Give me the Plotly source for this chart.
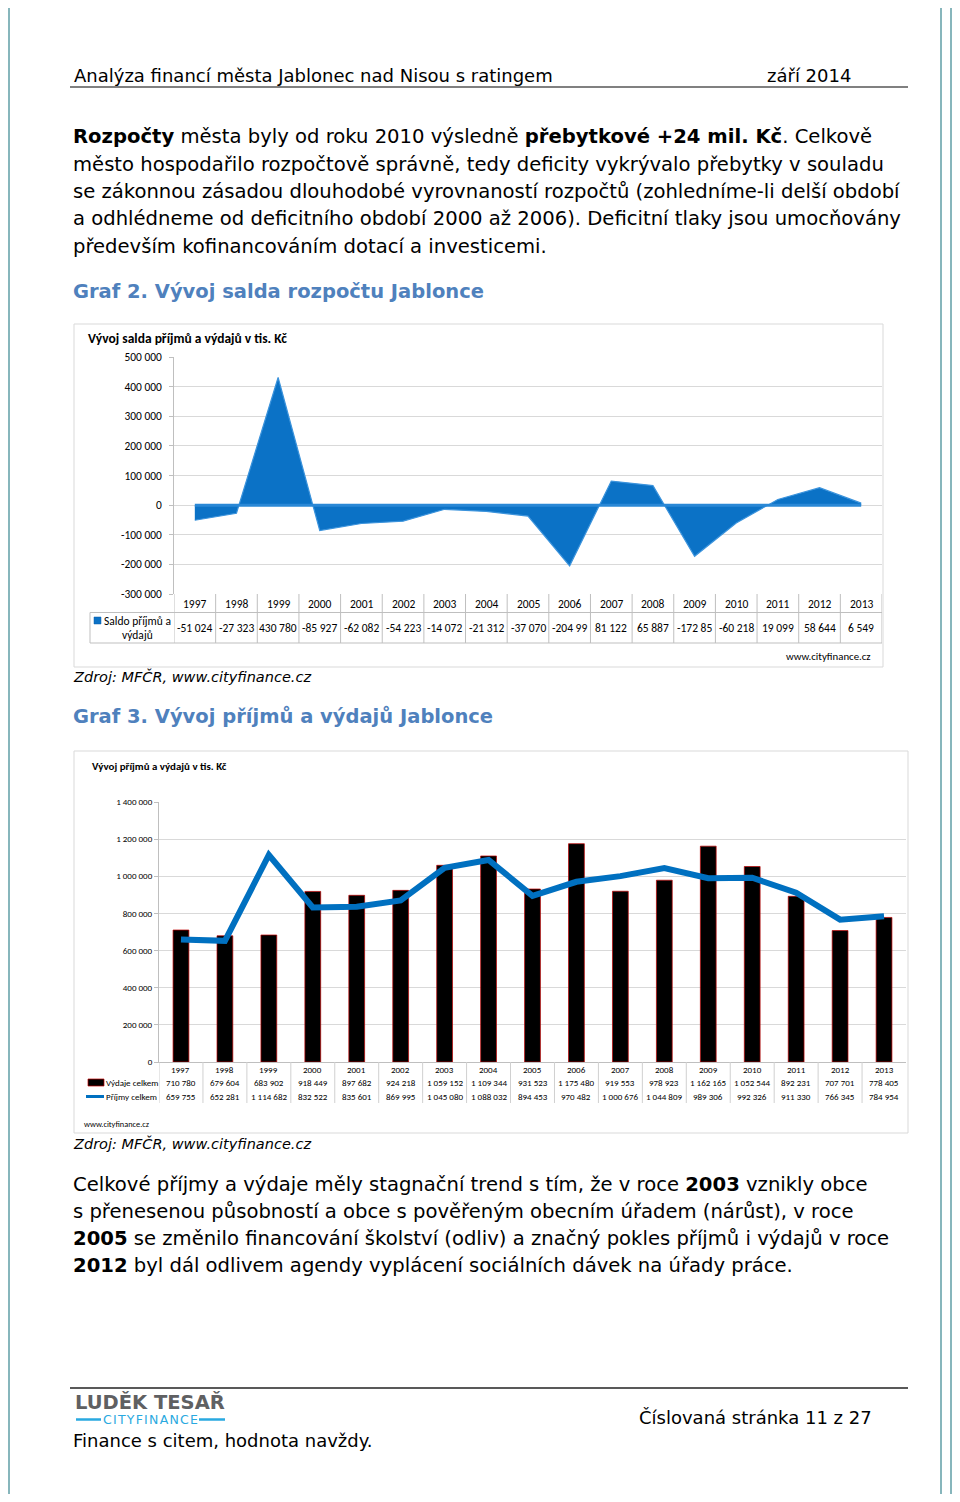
import plotly.graph_objects as go

# The page body keeps the browser's default 8 px margin, so the figure is
# sized to fill the 960x1502 window exactly inside that margin.
PAGE_W, PAGE_H, OFF = 960, 1502, 8
W, H = PAGE_W - 2 * OFF, PAGE_H - 2 * OFF

years = [str(y) for y in range(1997, 2014)]
saldo = [-51024, -27323, 430780, -85927, -62082, -54223, -14072, -21312, -37070,
         -204990, 81122, 65887, -172850, -60218, 19099, 58644, 6549]
vydaje = [710780, 679604, 683902, 918449, 897682, 924218, 1059152, 1109344, 931523,
          1175480, 919553, 978923, 1162165, 1052544, 892231, 707701, 778405]
prijmy = [659755, 652281, 1114682, 832522, 835601, 869995, 1045080, 1088032, 894453,
          970482, 1000676, 1044809, 989306, 992326, 911330, 766345, 784954]
y1_ticks = list(range(-300000, 500001, 100000))
y2_ticks = list(range(0, 1400001, 200000))

para1 = [
    "<b>Rozpočty</b> města byly od roku 2010 výsledně <b>přebytkové +24 mil. Kč</b>. Celkově",
    "město hospodařilo rozpočtově správně, tedy deficity vykrývalo přebytky v souladu",
    "se zákonnou zásadou dlouhodobé vyrovnaností rozpočtů (zohledníme-li delší období",
    "a odhlédneme od deficitního období 2000 až 2006). Deficitní tlaky jsou umocňovány",
    "především kofinancováním dotací a investicemi.",
]
para2 = [
    "Celkové příjmy a výdaje měly stagnační trend s tím, že v roce <b>2003</b> vznikly obce",
    "s přenesenou působností a obce s pověřeným obecním úřadem (nárůst), v roce",
    "<b>2005</b> se změnilo financování školství (odliv) a značný pokles příjmů i výdajů v roce",
    "<b>2012</b> byl dál odlivem agendy vyplácení sociálních dávek na úřady práce.",
]


def fmt(v):
    s = f"{abs(v):,}".replace(",", " ")
    return ("-" if v < 0 else "") + s


def px(x):
    return (x - OFF) / W


def py(y):
    return 1 - (y - OFF) / H


BODY = "DejaVu Sans, Verdana, sans-serif"
CH = "Carlito, Lato, sans-serif"
AREA = "#0b72c6"
GRID = "#d9d9d9"
TBL = "#bfbfbf"
BORDER = "#5f9ea6"

fig = go.Figure()

# Chart 1 : area
fig.add_trace(go.Scatter(x=years, y=saldo, mode="lines", fill="tozeroy",
                         fillcolor=AREA, line=dict(color="#3b93dc", width=1.2),
                         xaxis="x", yaxis="y", hoverinfo="skip"))
fig.add_trace(go.Scatter(x=years, y=[0] * len(years), mode="lines",
                         line=dict(color="#2a88d6", width=3),
                         xaxis="x", yaxis="y", hoverinfo="skip"))

# Chart 2 : bars + line
fig.add_trace(go.Bar(x=years, y=vydaje, width=0.36,
                     marker=dict(color="black", line=dict(color="#c00000", width=0.7)),
                     xaxis="x2", yaxis="y2", hoverinfo="skip"))
fig.add_trace(go.Scatter(x=years, y=prijmy, mode="lines",
                         line=dict(color="#0070c0", width=6),
                         xaxis="x2", yaxis="y2", hoverinfo="skip"))

shapes = []
ann = []


def pline(x0, y0, x1, y1, color, width=1, xref="paper"):
    if xref == "paper":
        x0, x1 = px(x0), px(x1)
    shapes.append(dict(type="line", xref=xref, yref="paper", x0=x0, x1=x1,
                       y0=py(y0), y1=py(y1), line=dict(color=color, width=width)))


def text(x, y, t, size, color="black", family=BODY, xanchor="left", xref="paper"):
    ann.append(dict(x=x if xref != "paper" else px(x), y=py(y), xref=xref, yref="paper",
                    text=t, showarrow=False, xanchor=xanchor, yanchor="middle",
                    font=dict(size=size, color=color, family=family)))


# page borders
pline(9, OFF, 9, PAGE_H - OFF, BORDER, 1.5)
pline(941, OFF, 941, PAGE_H - OFF, BORDER, 1.5)
pline(951, OFF, 951, PAGE_H - OFF, BORDER, 1.5)

# header
text(72, 75, "Analýza financí města Jablonec nad Nisou s ratingem", 18)
text(853, 75, "září 2014", 18, xanchor="right")
pline(70, 87, 908, 87, "#808080", 2)

# paragraph 1
for i, line in enumerate(para1):
    text(71, 137 + i * 27.3, line, 19.6)

text(71, 291, "<b>Graf 2. Vývoj salda rozpočtu Jablonce</b>", 19.5, color="#4f81bd")

# chart 1 frame
shapes.append(dict(type="rect", xref="paper", yref="paper", x0=px(74), x1=px(883),
                   y0=py(667), y1=py(324), line=dict(color=GRID, width=1)))
text(86, 338, "<b>Vývoj salda příjmů a výdajů v tis. Kč</b>", 13.5, family=CH)

# chart 1 data table
pline(90, 612.5, 882, 612.5, TBL)
pline(90, 643, 882, 643, TBL)
pline(90, 612.5, 90, 643, TBL)
for i in range(len(years) + 1):
    pline(i - 0.5, 594, i - 0.5, 643, TBL, xref="x")
for i, yr in enumerate(years):
    text(i, 603.5, yr, 11.5, family=CH, xanchor="center", xref="x")
    text(i, 628, fmt(saldo[i])[:7], 11.5, family=CH, xanchor="center", xref="x")
shapes.append(dict(type="rect", xref="paper", yref="paper", x0=px(94), x1=px(101),
                   y0=py(624), y1=py(617), fillcolor=AREA,
                   line=dict(color="#0a5ea8", width=0.5)))
text(137, 621, "Saldo příjmů a", 11.5, family=CH, xanchor="center")
text(137, 635, "výdajů", 11.5, family=CH, xanchor="center")
text(873, 656, "www.cityfinance.cz", 10.8, family=CH, xanchor="right")

text(71, 676, "<i>Zdroj: MFČR, www.cityfinance.cz</i>", 14.5)

text(71, 717, "<b>Graf 3. Vývoj příjmů a výdajů Jablonce</b>", 19.5, color="#4f81bd")

# chart 2 frame
shapes.append(dict(type="rect", xref="paper", yref="paper", x0=px(74), x1=px(908),
                   y0=py(1133), y1=py(751), line=dict(color=GRID, width=1)))
text(90, 766, "<b>Vývoj příjmů a výdajů v tis. Kč</b>", 10.9, family=CH)

# chart 2 data table
for i in range(len(years)):
    pline(i - 0.5, 1062, i - 0.5, 1103, "#d0d0d0", xref="x2")
for i, yr in enumerate(years):
    text(i, 1069, yr, 9, family=CH, xanchor="center", xref="x2")
    text(i, 1082.5, fmt(vydaje[i]), 9, family=CH, xanchor="center", xref="x2")
    text(i, 1096.5, fmt(prijmy[i]), 9, family=CH, xanchor="center", xref="x2")
shapes.append(dict(type="rect", xref="paper", yref="paper", x0=px(88), x1=px(104),
                   y0=py(1086), y1=py(1079), fillcolor="black",
                   line=dict(color="#c00000", width=0.7)))
pline(86, 1096.5, 104, 1096.5, "#0070c0", 3)
text(104, 1082.5, "Výdaje celkem", 9, family=CH)
text(104, 1096.5, "Příjmy celkem", 9, family=CH)
text(82, 1124, "www.cityfinance.cz", 8.3, family=CH)

text(71, 1143, "<i>Zdroj: MFČR, www.cityfinance.cz</i>", 14.5)

# paragraph 2
for i, line in enumerate(para2):
    text(71, 1184 + i * 27.3, line, 19.6)

# footer
pline(70, 1388, 908, 1388, "#595959", 2)
text(73, 1402, "<b>LUDĚK TESAŘ</b>", 19.5, color="#5f6062")
text(150, 1419, "\u200a".join("CITYFINANCE"), 12.5, color="#29a9e0", xanchor="center")
pline(76, 1419.5, 101, 1419.5, "#29a9e0", 2.5)
pline(199, 1419.5, 225, 1419.5, "#29a9e0", 2.5)
text(71, 1440, "Finance s citem, hodnota navždy.", 18)
text(874, 1417, "Číslovaná stránka 11 z 27", 18, xanchor="right")

fig.update_layout(
    width=W, height=H, margin=dict(l=0, r=0, t=0, b=0, autoexpand=False),
    paper_bgcolor="white", plot_bgcolor="white", showlegend=False,
    shapes=shapes, annotations=ann,
    xaxis=dict(domain=[px(174), px(882)], type="category", range=[-0.5, 16.5],
               showticklabels=False, showgrid=False, zeroline=False, showline=False,
               fixedrange=True),
    yaxis=dict(domain=[py(594), py(357)], range=[-300000, 500000],
               tickvals=y1_ticks, ticktext=[fmt(v) for v in y1_ticks],
               showgrid=True, gridcolor=GRID, gridwidth=1, zeroline=False,
               showline=True, linecolor=TBL, ticks="outside", ticklen=4, tickcolor=TBL,
               ticklabelstandoff=5,
               tickfont=dict(size=11.4, family=CH, color="black"), fixedrange=True),
    xaxis2=dict(domain=[px(159), px(906)], type="category", range=[-0.5, 16.5],
                showticklabels=False, showgrid=False, zeroline=False,
                showline=True, linecolor=TBL, anchor="y2", fixedrange=True),
    yaxis2=dict(domain=[py(1062), py(802)], range=[0, 1400000], anchor="x2",
                tickvals=y2_ticks, ticktext=[fmt(v) for v in y2_ticks],
                showgrid=True, gridcolor=GRID, gridwidth=1, zeroline=False,
                showline=True, linecolor=TBL, ticks="outside", ticklen=4, tickcolor=TBL,
                tickfont=dict(size=9, family=CH, color="black"), fixedrange=True),
)

fig.write_html("out.html", config={"displayModeBar": False})
